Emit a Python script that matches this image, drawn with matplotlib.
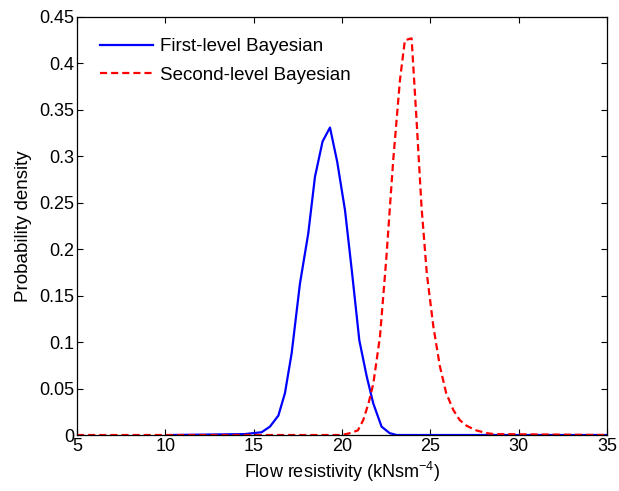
import numpy as np
import matplotlib
matplotlib.use("Agg")
import matplotlib.pyplot as plt

plt.rcParams['font.family'] = ['Liberation Sans', 'DejaVu Sans']
plt.rcParams['mathtext.fontset'] = 'custom'
plt.rcParams['mathtext.rm'] = 'Liberation Sans'

# first-level posterior
blue_x = [10.3, 14.5, 14.96, 15.45, 15.92, 16.4, 16.77, 17.15, 17.62, 18.09, 18.47,
          18.9, 19.32, 19.73, 20.17, 20.55, 20.98, 21.4, 21.77, 22.24, 22.7, 23.1, 35]
blue_y = [0, 0.001, 0.002, 0.003, 0.009, 0.021, 0.045, 0.088, 0.163, 0.217, 0.278,
          0.316, 0.331, 0.294, 0.242, 0.178, 0.102, 0.063, 0.034, 0.009, 0.002, 0, 0]

# second-level posterior
red_x = [5, 20.0, 20.45, 20.9, 21.2, 21.5, 21.77, 22.15, 22.5, 22.9, 23.28, 23.56,
         23.94, 24.22, 24.5, 24.8, 25.17, 25.54, 25.9, 26.3, 26.67, 27.05, 27.6,
         28.2, 28.6, 35]
red_y = [0, 0, 0.002, 0.005, 0.016, 0.034, 0.055, 0.106, 0.188, 0.296, 0.382, 0.425,
         0.427, 0.339, 0.246, 0.174, 0.117, 0.074, 0.045, 0.027, 0.016, 0.010, 0.005,
         0.002, 0.001, 0]

fig = plt.figure(figsize=(6.19, 4.91), dpi=100)
ax = fig.add_axes([0.1244, 0.114, 0.8562, 0.8514])

ax.plot(blue_x, blue_y, color='#0000ff', lw=1.6, label='First-level Bayesian')
ax.plot(red_x, red_y, color='#ff0000', lw=1.6, ls=(0, (3.2, 1.8)), label='Second-level Bayesian')

ax.set_xlim(5, 35)
ax.set_ylim(0, 0.45)
ax.set_xticks(np.arange(5, 36, 5))
ax.set_yticks(np.arange(0, 0.451, 0.05))
ax.set_yticklabels(['0', '0.05', '0.1', '0.15', '0.2', '0.25', '0.3', '0.35', '0.4', '0.45'])
ax.tick_params(direction='in', top=True, right=True, labelsize=13, length=4, width=0.8, pad=2)
for s in ax.spines.values():
    s.set_linewidth(0.9)

ax.set_xlabel('Flow resistivity (kNsm$^{\\mathregular{-4}}$)', fontsize=13, labelpad=4)
ax.set_ylabel('Probability density', fontsize=13.5, labelpad=5)

ax.legend(loc='upper left', frameon=False, fontsize=13.5, handlelength=2.8,
          borderaxespad=0.0, bbox_to_anchor=(0.03, 0.967), labelspacing=0.6, handletextpad=0.4)

fig.savefig('out.png', dpi=100)
